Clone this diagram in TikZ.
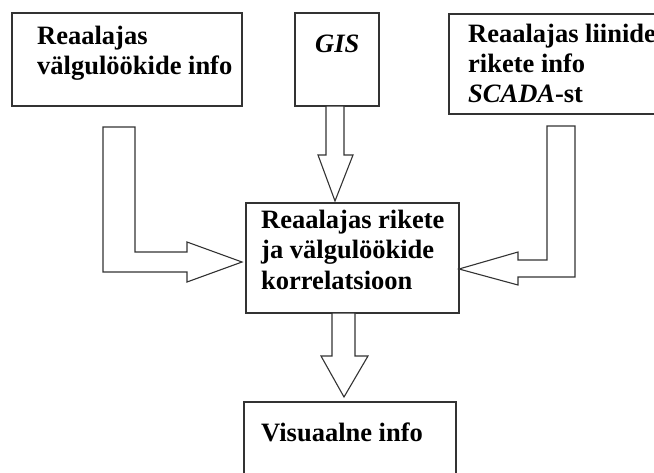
\documentclass[tikz,border=0pt]{standalone}
\usepackage{fontspec}
\setmainfont{Liberation Serif}
\begin{document}
\begin{tikzpicture}[x=1pt,y=-1pt,
  box/.style={draw=black!80, line width=1.2pt},
  blk/.style={draw=black!80, line width=1.1pt, fill=white, line join=miter},
  lbl/.style={anchor=base west, inner sep=0pt, font=\fontsize{26.5}{30}\selectfont\bfseries, text=black}]
\clip (0,0) rectangle (654,472);
\fill[white] (0,0) rectangle (654,472);
% boxes
\draw[box] (12,13) rectangle (242,106);
\draw[box] (295,13) rectangle (379,106);
\draw[box] (449,14) rectangle (680,114);
\draw[box] (246,203) rectangle (459,313);
\draw[box] (244,402) rectangle (456,500);
% texts
\node[lbl] (t1a) at (37,44) {Reaalajas};
\node[lbl] (t1b) at (37,74.5) {välgulöökide info};
\node[lbl] (t2) at (315,52) {\itshape GIS};
\node[lbl] (t3a) at (468,42.5) {Reaalajas liinide};
\node[lbl] (t3b) at (468,72.5) {rikete info};
\node[lbl] (t3c) at (468,102.5) {\textit{SCADA}-st};
\node[lbl] (t4a) at (261,228) {Reaalajas rikete};
\node[lbl] (t4b) at (261,258.5) {ja välgulöökide};
\node[lbl] (t4c) at (261,289) {korrelatsioon};
\node[lbl] (t5) at (261,441.5) {Visuaalne info};
% block arrows
\draw[blk] (326,106) -- (344,106) -- (344,155) -- (353,155) -- (335,201) -- (318,155) -- (326,155) -- cycle;
\draw[blk] (332,313) -- (355,313) -- (355,356) -- (368,356) -- (344,397) -- (321,356) -- (332,356) -- cycle;
\draw[blk] (103,127) -- (135,127) -- (135,252) -- (187,252) -- (187,242) -- (242,262) -- (187,282) -- (187,272) -- (103,272) -- cycle;
\draw[blk] (575,126) -- (547,126) -- (547,260) -- (518,260) -- (518,252) -- (459,269) -- (518,285) -- (518,277) -- (575,277) -- cycle;
\end{tikzpicture}
\end{document}
